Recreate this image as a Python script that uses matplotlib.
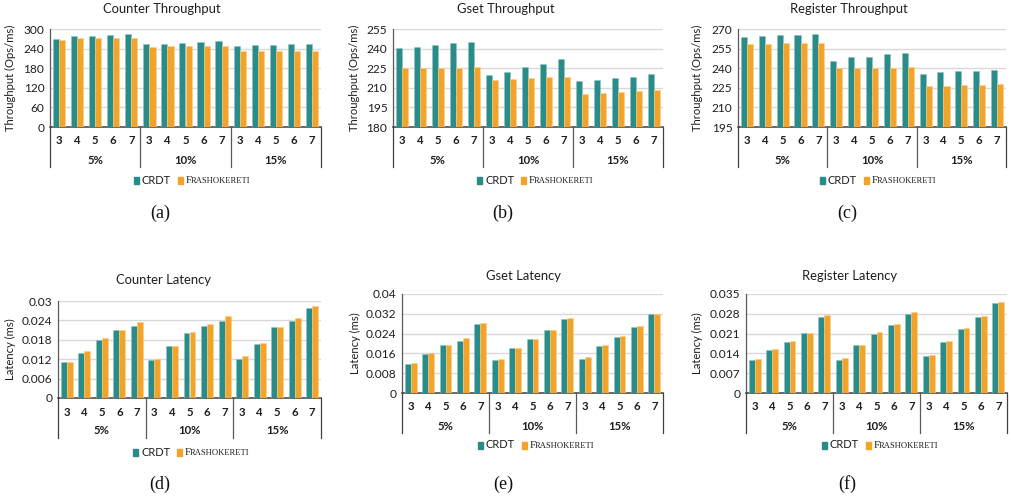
import matplotlib
matplotlib.use("Agg")
import matplotlib.pyplot as plt
from matplotlib.patches import Rectangle
from matplotlib.transforms import blended_transform_factory
import numpy as np

W, H, DPI = 1011, 504, 100

# ---- data ----------------------------------------------------------------
node_counts = ["3", "4", "5", "6", "7"]
conflict_rates = ["5%", "10%", "15%"]
series_names = ["CRDT", "Frashokereti"]

counter_tp_crdt = [270, 278, 279, 282, 286, 253, 254, 256, 260, 263, 248, 251, 251, 254, 254]
counter_tp_frash = [267, 271, 271, 272, 272, 245, 247, 247, 247, 248, 233, 233, 233, 234, 234]

gset_tp_crdt = [240.6, 241.4, 242.9, 244.5, 244.7, 220.1, 222.1, 226.2, 228.3, 231.9,
                215.2, 216.2, 217.2, 218.3, 220.3]
gset_tp_frash = [225.2, 225.2, 225.2, 225.2, 226.2, 216.2, 217.0, 217.2, 218.3, 218.3,
                 205.4, 205.9, 207.0, 207.5, 208.3]

register_tp_crdt = [263.8, 264.6, 265.4, 265.4, 266.4, 245.3, 248.2, 248.7, 250.7, 251.8,
                    235.6, 237.1, 237.6, 237.9, 238.4]
register_tp_frash = [258.4, 258.4, 259.0, 259.2, 259.5, 240.0, 240.0, 240.2, 240.2, 241.0,
                     226.1, 226.3, 226.9, 226.9, 227.6]

counter_lat_crdt = [0.0110, 0.0139, 0.0178, 0.0210, 0.0223, 0.0118, 0.0161, 0.0200, 0.0223, 0.0239,
                    0.0120, 0.0168, 0.0219, 0.0239, 0.0279]
counter_lat_frash = [0.0112, 0.0146, 0.0185, 0.0210, 0.0234, 0.0122, 0.0161, 0.0204, 0.0228, 0.0253,
                     0.0129, 0.0171, 0.0219, 0.0248, 0.0284]

gset_lat_crdt = [0.0118, 0.0159, 0.0192, 0.0210, 0.0280, 0.0133, 0.0181, 0.0218, 0.0253, 0.0301,
                 0.0139, 0.0191, 0.0227, 0.0267, 0.0318]
gset_lat_frash = [0.0121, 0.0163, 0.0195, 0.0223, 0.0283, 0.0136, 0.0182, 0.0219, 0.0254, 0.0302,
                  0.0144, 0.0192, 0.0229, 0.0272, 0.0320]

register_lat_crdt = [0.0117, 0.0152, 0.0182, 0.0212, 0.0269, 0.0118, 0.0168, 0.0210, 0.0241, 0.0281,
                     0.0131, 0.0181, 0.0227, 0.0269, 0.0318]
register_lat_frash = [0.0119, 0.0156, 0.0185, 0.0213, 0.0274, 0.0124, 0.0170, 0.0214, 0.0245, 0.0285,
                      0.0135, 0.0185, 0.0230, 0.0273, 0.0320]

tp_ticks_counter = [0, 60, 120, 180, 240, 300]
tp_ticks_gset = [180, 195, 210, 225, 240, 255]
tp_ticks_register = [195, 210, 225, 240, 255, 270]
lat_ticks_counter = ["0", "0.006", "0.012", "0.018", "0.024", "0.03"]
lat_ticks_gset = ["0", "0.008", "0.016", "0.024", "0.032", "0.04"]
lat_ticks_register = ["0", "0.007", "0.014", "0.021", "0.028", "0.035"]

# ---- style ---------------------------------------------------------------
TEAL = "#2A8C89"
ORANGE = "#F2A42A"
GRID = "#D9D9D9"
AXIS = "#404040"
TEXT = "#1E1E1E"
SANS = ["Lato", "DejaVu Sans"]
NARROW = ["Liberation Sans Narrow", "Lato", "DejaVu Sans"]
SERIF = ["Liberation Serif", "DejaVu Serif"]
plt.rcParams["font.family"] = SANS

fig = plt.figure(figsize=(W / DPI, H / DPI), dpi=DPI)


def fx(px):
    return px / W


def fy(py):
    return 1 - py / H


panels = [
    dict(title="Counter Throughput", ylabel="Throughput (Ops/ms)",
         crdt=counter_tp_crdt, frash=counter_tp_frash,
         ticks=[str(t) for t in tp_ticks_counter], lim=(tp_ticks_counter[0], tp_ticks_counter[-1]),
         box=(50, 29, 321, 127), title_xy=(162, 9), ylab_x=10, leg=(134, 180), cap=(160, 213, "(a)")),
    dict(title="Gset Throughput", ylabel="Throughput (Ops/ms)",
         crdt=gset_tp_crdt, frash=gset_tp_frash,
         ticks=[str(t) for t in tp_ticks_gset], lim=(tp_ticks_gset[0], tp_ticks_gset[-1]),
         box=(393, 29, 663, 127), title_xy=(506, 9), ylab_x=354, leg=(477, 180), cap=(503, 213, "(b)")),
    dict(title="Register Throughput", ylabel="Throughput (Ops/ms)",
         crdt=register_tp_crdt, frash=register_tp_frash,
         ticks=[str(t) for t in tp_ticks_register], lim=(tp_ticks_register[0], tp_ticks_register[-1]),
         box=(738, 29, 1006, 127), title_xy=(849, 9), ylab_x=697, leg=(820, 180), cap=(847, 213, "(c)")),
    dict(title="Counter Latency", ylabel="Latency (ms)",
         crdt=counter_lat_crdt, frash=counter_lat_frash,
         ticks=lat_ticks_counter, lim=(0, 0.03),
         box=(58, 301, 321, 398), title_xy=(163, 280), ylab_x=10, leg=(133, 452), cap=(160, 484, "(d)")),
    dict(title="Gset Latency", ylabel="Latency (ms)",
         crdt=gset_lat_crdt, frash=gset_lat_frash,
         ticks=lat_ticks_gset, lim=(0, 0.04),
         box=(402, 294, 663, 393), title_xy=(524, 276), ylab_x=355, leg=(478, 445), cap=(503, 484, "(e)")),
    dict(title="Register Latency", ylabel="Latency (ms)",
         crdt=register_lat_crdt, frash=register_lat_frash,
         ticks=lat_ticks_register, lim=(0, 0.035),
         box=(746, 294, 1007, 393), title_xy=(850, 276), ylab_x=697, leg=(822, 445), cap=(847, 484, "(f)")),
]

n_cat = len(node_counts) * len(conflict_rates)
x = np.arange(n_cat)
bw = 0.34

legend_jobs = []

for p in panels:
    l, t, r, b = p["box"]
    ax = fig.add_axes([fx(l), fy(b), fx(r - l), (b - t) / H])
    ax_h = b - t

    ax.bar(x - bw / 2, p["crdt"], bw, color=TEAL, edgecolor="#8CC4C2", linewidth=0.4, zorder=3)
    ax.bar(x + bw / 2, p["frash"], bw, color=ORANGE, edgecolor="#F8D08E", linewidth=0.4, zorder=3)

    lo, hi = p["lim"]
    ax.set_ylim(lo, hi)
    ax.set_xlim(-0.5, n_cat - 0.5)
    yt = np.linspace(lo, hi, len(p["ticks"]))
    ax.set_yticks(yt)
    ax.set_yticklabels(p["ticks"], fontsize=8.6, color=TEXT)
    ax.tick_params(axis="y", length=0, pad=4)
    ax.set_xticks([])
    ax.grid(axis="y", color=GRID, linewidth=1.0, zorder=0)
    ax.set_axisbelow(True)
    for s in ("top", "right"):
        ax.spines[s].set_visible(False)
    ax.spines["left"].set_color("#595959")
    ax.spines["left"].set_linewidth(0.9)
    ax.spines["bottom"].set_color(AXIS)
    ax.spines["bottom"].set_linewidth(1.1)

    # rotated axis title centred on a fixed pixel column
    fig.text(fx(p["ylab_x"]), fy((t + b) / 2), p["ylabel"], rotation=90, ha="center", va="center",
             fontsize=8.1, color=TEXT)

    # two-level category axis below the bars
    tr = blended_transform_factory(ax.transData, ax.transAxes)
    for i in range(n_cat):
        ax.text(x[i], -14 / ax_h, node_counts[i % len(node_counts)], transform=tr,
                ha="center", va="center", fontsize=8.2, fontweight="bold", color=TEXT)
    n = len(node_counts)
    for g, name in enumerate(conflict_rates):
        ax.text(g * n + (n - 1) / 2, -33 / ax_h, name, transform=tr,
                ha="center", va="center", fontsize=8.2, fontweight="bold", color=TEXT)
    for g in range(len(conflict_rates) + 1):
        xs = g * n - 0.5
        ax.plot([xs, xs], [0, -39.5 / ax_h], transform=tr,
                color=AXIS if g in (0, len(conflict_rates)) else "#595959",
                linewidth=0.9, clip_on=False, zorder=5)

    fig.text(fx(p["title_xy"][0]), fy(p["title_xy"][1]), p["title"], ha="center", va="center",
             fontsize=9.4, color=TEXT)
    cx, cy, ctext = p["cap"]
    fig.text(fx(cx), fy(cy), ctext, ha="center", va="center", fontsize=13, family=SERIF, color="#111111")
    legend_jobs.append(p["leg"])

# legend: coloured squares followed by the series names (second name in small capitals)
fig.canvas.draw()
renderer = fig.canvas.get_renderer()


def text_right(tobj):
    bb = tobj.get_window_extent(renderer=renderer)
    return bb.x1


for lx, ly in legend_jobs:
    sq = 5
    fig.patches.append(Rectangle((fx(lx), fy(ly + sq / 2 + 1)), fx(sq), (sq + 2) / H, color=TEAL,
                                 transform=fig.transFigure, figure=fig))
    t1 = fig.text(fx(lx + sq + 3), fy(ly), series_names[0], ha="left", va="center",
                  fontsize=7.9, family=NARROW, color=TEXT)
    x1 = text_right(t1)
    ox = x1 + 7
    fig.patches.append(Rectangle((fx(ox), fy(ly + sq / 2 + 1)), fx(sq), (sq + 2) / H, color=ORANGE,
                                 transform=fig.transFigure, figure=fig))
    name = series_names[1]
    t2 = fig.text(fx(ox + sq + 3), fy(ly + 3.4), name[0], ha="left", va="baseline",
                  fontsize=7.8, family=SERIF, color=TEXT)
    x2 = text_right(t2)
    fig.text(fx(x2 - 1.2), fy(ly + 3.4), name[1:].upper(), ha="left", va="baseline",
             fontsize=6.1, family=SERIF, color=TEXT)

fig.savefig("out.png", dpi=DPI, facecolor="white")
